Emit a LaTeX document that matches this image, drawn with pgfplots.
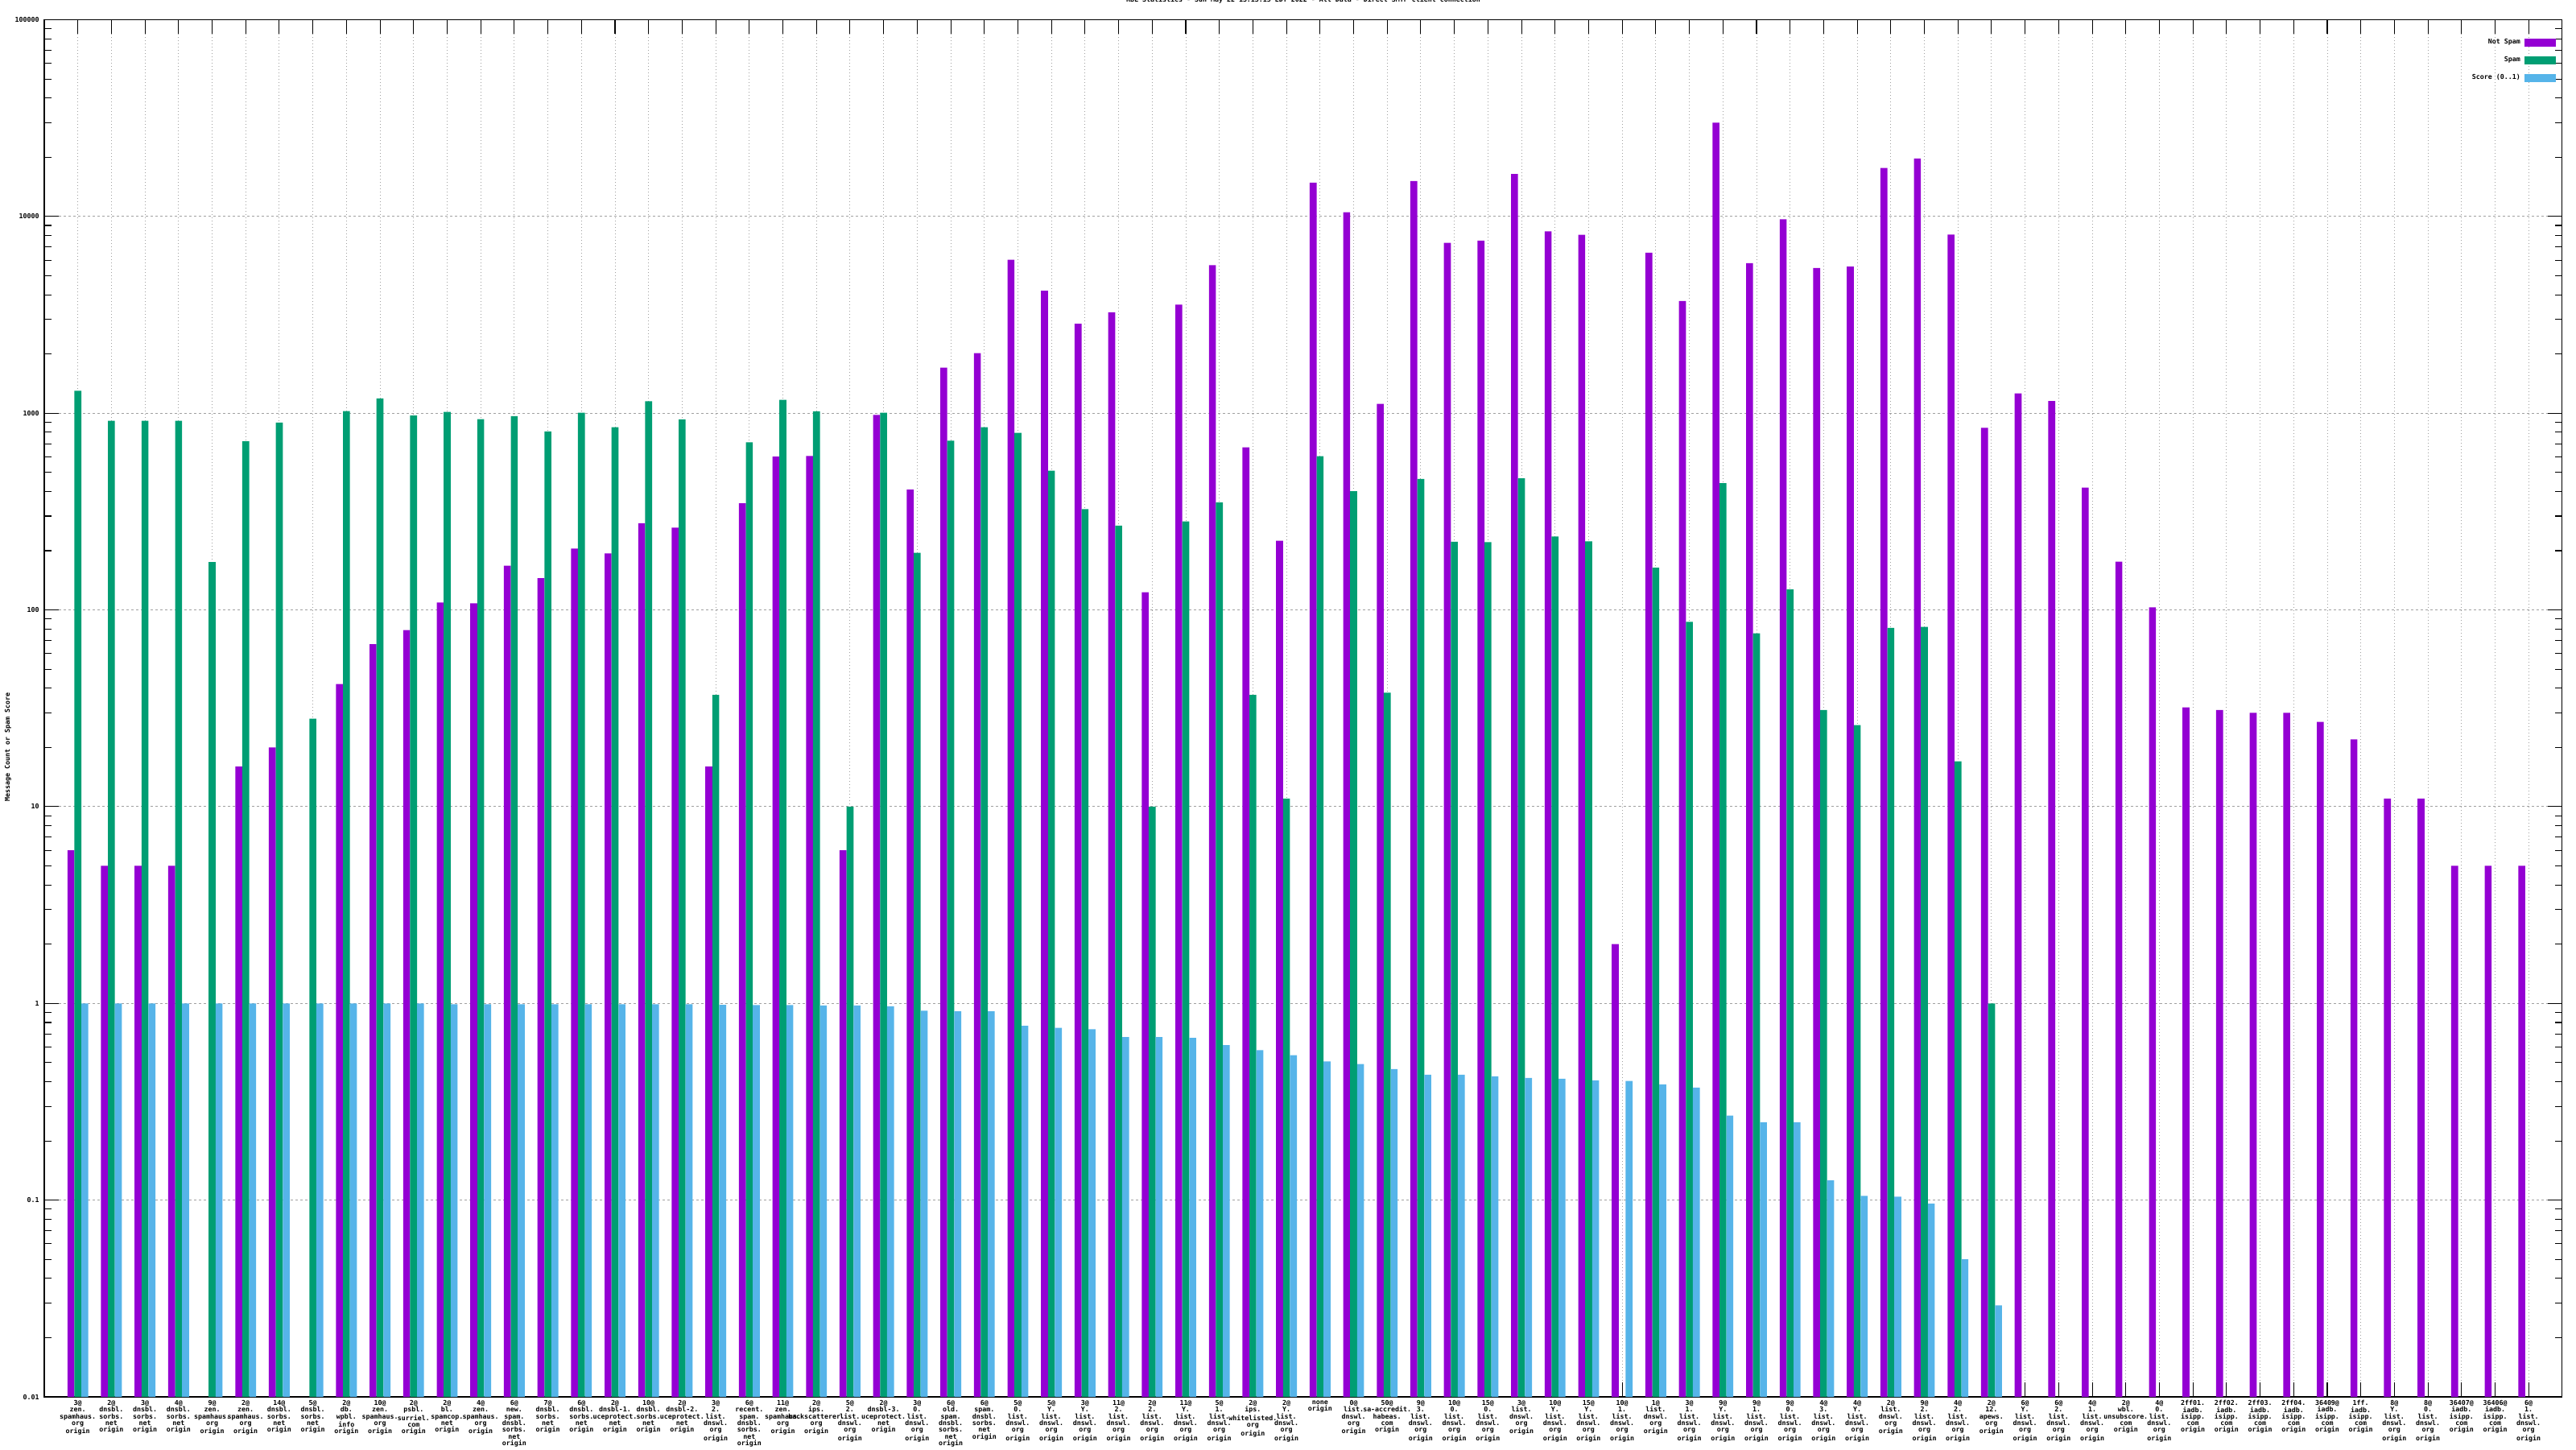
\documentclass[border=0pt]{standalone}
\usepackage{fontspec}
\setmainfont{DejaVu Sans Mono}
\usepackage{pgfplots}
\pgfplotsset{compat=1.18}
\definecolor{cNS}{HTML}{9400D3}
\definecolor{cSP}{HTML}{009E73}
\definecolor{cSC}{HTML}{56B4E9}
\definecolor{cGrid}{HTML}{A0A0A0}
\newcommand\gfont{\fontsize{4.15}{4.15}\selectfont\bfseries}
\begin{document}
\begin{tikzpicture}
\begin{axis}[
  scale only axis, width=1564pt, height=855.25pt,
  ymode=log, log origin=infty,
  ymin=0.01, ymax=100000,
  xmin=-1, xmax=74,
  axis line style={black, line width=0.55pt},
  tick style={black, line width=0.55pt},
  major tick length=9pt, minor tick length=4.5pt,
  tick align=inside, xtick pos=both, ytick pos=both,
  xtick={0,...,73},
  ytick={0.01,0.1,1,10,100,1000,10000,100000},
  yticklabels={0.01,0.1,1,10,100,1000,10000,100000},
  minor ytick={0.02,0.03,0.04,0.05,0.06,0.07,0.08,0.09,
    0.2,0.3,0.4,0.5,0.6,0.7,0.8,0.9,2,3,4,5,6,7,8,9,
    20,30,40,50,60,70,80,90,200,300,400,500,600,700,800,900,
    2000,3000,4000,5000,6000,7000,8000,9000,
    20000,30000,40000,50000,60000,70000,80000,90000},
  xmajorgrids, ymajorgrids,
  x grid style={cGrid, line width=0.5pt, dash pattern=on 0.6pt off 1.4pt},
  y grid style={cGrid, line width=0.5pt, dash pattern=on 1.5pt off 1.5pt},
  yticklabel style={font=\gfont, inner sep=0pt, xshift=-3pt},
  xticklabel style={font=\gfont, align=center, inner sep=0pt, anchor=north, yshift=-2pt},
  xticklabels={
{3@\\zen.\\spamhaus.\\org\\origin},
{2@\\dnsbl.\\sorbs.\\net\\origin},
{3@\\dnsbl.\\sorbs.\\net\\origin},
{4@\\dnsbl.\\sorbs.\\net\\origin},
{9@\\zen.\\spamhaus.\\org\\origin},
{2@\\zen.\\spamhaus.\\org\\origin},
{14@\\dnsbl.\\sorbs.\\net\\origin},
{5@\\dnsbl.\\sorbs.\\net\\origin},
{2@\\db.\\wpbl.\\info\\origin},
{10@\\zen.\\spamhaus.\\org\\origin},
{2@\\psbl.\\surriel.\\com\\origin},
{2@\\bl.\\spamcop.\\net\\origin},
{4@\\zen.\\spamhaus.\\org\\origin},
{6@\\new.\\spam.\\dnsbl.\\sorbs.\\net\\origin},
{7@\\dnsbl.\\sorbs.\\net\\origin},
{6@\\dnsbl.\\sorbs.\\net\\origin},
{2@\\dnsbl-1.\\uceprotect.\\net\\origin},
{10@\\dnsbl.\\sorbs.\\net\\origin},
{2@\\dnsbl-2.\\uceprotect.\\net\\origin},
{3@\\2.\\list.\\dnswl.\\org\\origin},
{6@\\recent.\\spam.\\dnsbl.\\sorbs.\\net\\origin},
{11@\\zen.\\spamhaus.\\org\\origin},
{2@\\ips.\\backscatterer.\\org\\origin},
{5@\\2.\\list.\\dnswl.\\org\\origin},
{2@\\dnsbl-3.\\uceprotect.\\net\\origin},
{3@\\0.\\list.\\dnswl.\\org\\origin},
{6@\\old.\\spam.\\dnsbl.\\sorbs.\\net\\origin},
{6@\\spam.\\dnsbl.\\sorbs.\\net\\origin},
{5@\\0.\\list.\\dnswl.\\org\\origin},
{5@\\Y.\\list.\\dnswl.\\org\\origin},
{3@\\Y.\\list.\\dnswl.\\org\\origin},
{11@\\2.\\list.\\dnswl.\\org\\origin},
{2@\\2.\\list.\\dnswl.\\org\\origin},
{11@\\Y.\\list.\\dnswl.\\org\\origin},
{5@\\1.\\list.\\dnswl.\\org\\origin},
{2@\\ips.\\whitelisted.\\org\\origin},
{2@\\Y.\\list.\\dnswl.\\org\\origin},
{none\\origin},
{0@\\list.\\dnswl.\\org\\origin},
{50@\\sa-accredit.\\habeas.\\com\\origin},
{9@\\3.\\list.\\dnswl.\\org\\origin},
{10@\\0.\\list.\\dnswl.\\org\\origin},
{15@\\0.\\list.\\dnswl.\\org\\origin},
{3@\\list.\\dnswl.\\org\\origin},
{10@\\Y.\\list.\\dnswl.\\org\\origin},
{15@\\Y.\\list.\\dnswl.\\org\\origin},
{10@\\1.\\list.\\dnswl.\\org\\origin},
{1@\\list.\\dnswl.\\org\\origin},
{3@\\1.\\list.\\dnswl.\\org\\origin},
{9@\\Y.\\list.\\dnswl.\\org\\origin},
{9@\\1.\\list.\\dnswl.\\org\\origin},
{9@\\0.\\list.\\dnswl.\\org\\origin},
{4@\\3.\\list.\\dnswl.\\org\\origin},
{4@\\Y.\\list.\\dnswl.\\org\\origin},
{2@\\list.\\dnswl.\\org\\origin},
{9@\\2.\\list.\\dnswl.\\org\\origin},
{4@\\2.\\list.\\dnswl.\\org\\origin},
{2@\\12.\\apews.\\org\\origin},
{6@\\Y.\\list.\\dnswl.\\org\\origin},
{6@\\2.\\list.\\dnswl.\\org\\origin},
{4@\\1.\\list.\\dnswl.\\org\\origin},
{2@\\wbl.\\unsubscore.\\com\\origin},
{4@\\0.\\list.\\dnswl.\\org\\origin},
{2ff01.\\iadb.\\isipp.\\com\\origin},
{2ff02.\\iadb.\\isipp.\\com\\origin},
{2ff03.\\iadb.\\isipp.\\com\\origin},
{2ff04.\\iadb.\\isipp.\\com\\origin},
{36409@\\iadb.\\isipp.\\com\\origin},
{1ff.\\iadb.\\isipp.\\com\\origin},
{8@\\Y.\\list.\\dnswl.\\org\\origin},
{8@\\0.\\list.\\dnswl.\\org\\origin},
{36407@\\iadb.\\isipp.\\com\\origin},
{36406@\\iadb.\\isipp.\\com\\origin},
{6@\\1.\\list.\\dnswl.\\org\\origin}
  },
  title={RBL Statistics - Sun May 22 13:13:15 EDT 2022 - All Data - Direct SMTP client connection},
  title style={font=\gfont, at={(axis description cs:0.5,1)}, anchor=base, inner sep=0pt, yshift=5pt},
  ylabel={Message Count or Spam Score},
  ylabel style={font=\gfont, at={(axis description cs:-0.0144,0.472)}, anchor=center, inner sep=0pt},
  legend style={draw=none, fill=none, at={(rel axis cs:1,1)}, anchor=north east,
    xshift=-4pt, yshift=-11.6pt, font=\gfont, inner sep=0pt, outer sep=0pt,
    row sep=5.65pt, column sep=2.5pt, nodes={inner sep=0pt}},
  legend plot pos=right,
  legend cell align=right,
  legend image code/.code={\fill (0pt,-2.675pt) rectangle (19.5pt,2.675pt);},
]
\addplot[ybar, bar width=0.207, bar shift=-0.207, fill=cNS, draw=none] coordinates {
(0,6) (1,5) (2,5) (3,5) (5,16) (6,20) (8,42) (9,67) (10,79) (11,109)
(12,108) (13,168) (14,145) (15,205) (16,194) (17,276) (18,262) (19,16) (20,348) (21,602)
(22,606) (23,6) (24,980) (25,409) (26,1705) (27,2018) (28,6030) (29,4195) (30,2850) (31,3260)
(32,123) (33,3560) (34,5650) (35,671) (36,225) (37,14850) (38,10500) (39,1115) (40,15130) (41,7340)
(42,7530) (43,16450) (44,8390) (45,8070) (46,2) (47,6540) (48,3720) (49,29950) (50,5790) (51,9680)
(52,5470) (53,5560) (54,17650) (55,19700) (56,8080) (57,842) (58,1262) (59,1153) (60,419) (61,176)
(62,103) (63,32) (64,31) (65,30) (66,30) (67,27) (68,22) (69,11) (70,11) (71,5)
(72,5) (73,5)
};
\addlegendentry{Not Spam}
\addplot[ybar, bar width=0.207, bar shift=0, fill=cSP, draw=none] coordinates {
(0,1300) (1,916) (2,916) (3,916) (4,175) (5,720) (6,895) (7,28) (8,1025) (9,1190)
(10,972) (11,1014) (12,932) (13,965) (14,808) (15,1005) (16,849) (17,1150) (18,931) (19,37)
(20,712) (21,1170) (22,1022) (23,10) (24,1005) (25,195) (26,724) (27,849) (28,794) (29,510)
(30,325) (31,268) (32,10) (33,282) (34,352) (35,37) (36,11) (37,605) (38,401) (39,38)
(40,463) (41,222) (42,221) (43,467) (44,236) (45,223) (47,164) (48,87) (49,441) (50,76)
(51,127) (52,31) (53,26) (54,81) (55,82) (56,17) (57,1)
};
\addlegendentry{Spam}
\addplot[ybar, bar width=0.207, bar shift=0.207, fill=cSC, draw=none] coordinates {
(0,1) (1,1) (2,1) (3,1) (4,1) (5,1) (6,1) (7,1) (8,1) (9,1)
(10,1) (11,0.99) (12,0.99) (13,0.99) (14,0.99) (15,0.99) (16,0.99) (17,0.99) (18,0.99) (19,0.983)
(20,0.98) (21,0.98) (22,0.975) (23,0.975) (24,0.967) (25,0.919) (26,0.912) (27,0.912) (28,0.77) (29,0.751)
(30,0.739) (31,0.674) (32,0.674) (33,0.668) (34,0.614) (35,0.579) (36,0.546) (37,0.507) (38,0.492) (39,0.464)
(40,0.434) (41,0.434) (42,0.426) (43,0.418) (44,0.414) (45,0.406) (46,0.403) (47,0.388) (48,0.373) (49,0.269)
(50,0.249) (51,0.249) (52,0.126) (53,0.105) (54,0.104) (55,0.096) (56,0.050) (57,0.0292)
};
\addlegendentry{Score (0..1)}
\end{axis}
\pgfresetboundingbox
\path[use as bounding box] (-27.5pt,-32.5pt) rectangle (1572.5pt,867.5pt);
\end{tikzpicture}
\end{document}
